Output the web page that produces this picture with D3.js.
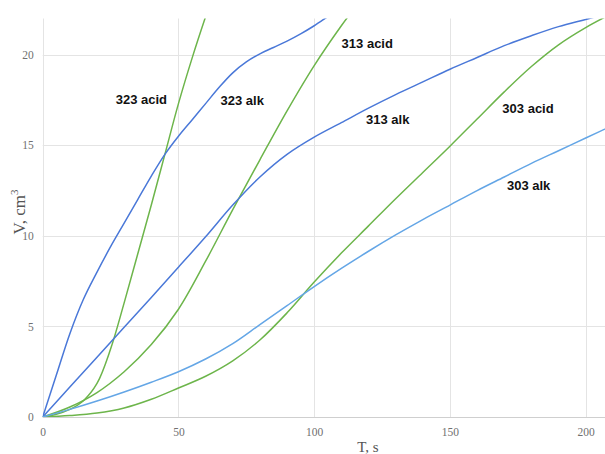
<!DOCTYPE html>
<html>
<head>
<meta charset="utf-8">
<script src="https://cdn.jsdelivr.net/npm/d3@7"></script>
<style>
  html, body { margin: 0; padding: 0; background: #fff; }
  svg { display: block; }
</style>
</head>
<body>
<svg id="chart" width="605" height="454"></svg>
<script>
// ---- data ----
const xTicks = [0, 50, 100, 150, 200];
const yTicks = [0, 5, 10, 15, 20];

const t323acid = [0, 5, 10, 15, 20, 25, 30, 35, 40, 45, 50, 55, 60, 63];
const v323acid = [0, 0.15, 0.42, 0.9, 1.85, 3.75, 6.3, 9.0, 11.7, 14.5, 17.3, 19.8, 22.1, 23.4];

const t323alk = [0, 5, 10, 15, 20, 25, 30, 35, 40, 45, 50, 55, 60, 65, 70, 75, 80, 85, 90, 95, 100, 105, 110];
const v323alk = [0, 2.3, 4.6, 6.5, 8.0, 9.4, 10.7, 12.0, 13.3, 14.5, 15.5, 16.4, 17.3, 18.2, 19.0, 19.6, 20.05, 20.4, 20.75, 21.15, 21.6, 22.1, 22.6];

const t313acid = [0, 10, 20, 30, 40, 50, 60, 70, 80, 90, 100, 110, 115];
const v313acid = [0, 0.55, 1.35, 2.5, 4.0, 5.95, 8.6, 11.45, 14.2, 16.9, 19.4, 21.6, 22.6];

const t313alk = [0, 10, 20, 30, 40, 50, 60, 70, 80, 90, 100, 110, 120, 130, 140, 150, 160, 170, 180, 190, 200, 210];
const v313alk = [0, 1.65, 3.3, 4.95, 6.6, 8.27, 9.95, 11.7, 13.25, 14.5, 15.45, 16.25, 17.05, 17.8, 18.5, 19.2, 19.85, 20.5, 21.05, 21.55, 21.95, 22.35];

const t303acid = [0, 10, 20, 30, 40, 50, 60, 70, 80, 90, 100, 110, 120, 130, 140, 150, 160, 170, 180, 190, 200, 210];
const v303acid = [0, 0.08, 0.22, 0.5, 0.98, 1.6, 2.25, 3.1, 4.25, 5.75, 7.45, 9.05, 10.55, 12.05, 13.5, 14.95, 16.45, 17.95, 19.35, 20.55, 21.5, 22.3];

const t303alk = [0, 10, 20, 30, 40, 50, 60, 70, 80, 90, 100, 110, 120, 130, 140, 150, 160, 170, 180, 190, 200, 210];
const v303alk = [0, 0.42, 0.88, 1.38, 1.92, 2.5, 3.2, 4.05, 5.1, 6.15, 7.2, 8.2, 9.15, 10.05, 10.9, 11.7, 12.5, 13.25, 14.0, 14.7, 15.4, 16.1];

const seriesNames = ["323 acid", "323 alk", "313 acid", "313 alk", "303 acid", "303 alk"];
const seriesT = [t323acid, t323alk, t313acid, t313alk, t303acid, t303alk];
const seriesV = [v323acid, v323alk, v313acid, v313alk, v303acid, v303alk];

// label anchors, in data units (time, volume)
const labelT = [26.9, 65.5, 110.1, 119.1, 169.3, 171.0];
const labelV = [17.3, 17.2, 20.35, 16.15, 16.8, 12.55];

// ---- styles ----
const seriesColor = ["#6db54b", "#4a78d8", "#6db54b", "#4a78d8", "#6db54b", "#64a6e6"];

const svg = d3.select("#chart");
const x = d3.scaleLinear().domain([0, 200]).range([42.7, 585.7]);
const y = d3.scaleLinear().domain([0, 22]).range([417, 18.5]);
const plotRight = 605;

// gridlines
const grid = svg.append("g");
grid.selectAll("line.h").data(yTicks).join("line")
  .attr("x1", x(0)).attr("x2", plotRight)
  .attr("y1", d => Math.round(y(d)) + 0.5).attr("y2", d => Math.round(y(d)) + 0.5)
  .attr("stroke", d => d === 0 ? "#cfcfcf" : "#e4e4e4").attr("stroke-width", 1);
grid.selectAll("line.v").data(xTicks).join("line")
  .attr("x1", d => Math.round(x(d)) + 0.5).attr("x2", d => Math.round(x(d)) + 0.5)
  .attr("y1", y(22)).attr("y2", y(0))
  .attr("stroke", "#e4e4e4").attr("stroke-width", 1);

// axes (tick labels only)
const yAxis = d3.axisLeft(y).tickValues(yTicks).tickSize(0).tickPadding(9);
const gy = svg.append("g").attr("transform", `translate(${x(0)},0)`).call(yAxis);
gy.select(".domain").remove();
gy.selectAll("text").attr("font-family", "'Liberation Serif', serif").attr("font-size", 11.5).attr("fill", "#707070");

const xAxis = d3.axisBottom(x).tickValues(xTicks).tickSize(0).tickPadding(11);
const gx = svg.append("g").attr("transform", `translate(0,${y(0)})`).call(xAxis);
gx.select(".domain").remove();
gx.selectAll("text").attr("font-family", "'Liberation Serif', serif").attr("font-size", 11.5).attr("fill", "#707070");

// clip
svg.append("clipPath").attr("id", "clip").append("rect")
  .attr("x", x(0)).attr("y", y(22)).attr("width", plotRight - x(0)).attr("height", y(0) - y(22));

const line = d3.line().x(d => x(d[0])).y(d => y(d[1])).curve(d3.curveCatmullRom.alpha(0.5));
const lines = svg.append("g").attr("clip-path", "url(#clip)");
seriesNames.forEach((name, i) => {
  const pts = seriesT[i].map((t, j) => [t, seriesV[i][j]]);
  lines.append("path").datum(pts)
    .attr("d", line)
    .attr("fill", "none")
    .attr("stroke", seriesColor[i])
    .attr("stroke-width", 1.5);
});

// series labels
svg.append("g").selectAll("text").data(seriesNames).join("text")
  .attr("x", (d, i) => x(labelT[i]))
  .attr("y", (d, i) => y(labelV[i]))
  .attr("font-family", "'Liberation Sans', Arial, sans-serif")
  .attr("font-weight", "bold")
  .attr("font-size", 13)
  .attr("fill", "#111")
  .text(d => d);

// axis titles
svg.append("text")
  .attr("x", 368).attr("y", 452)
  .attr("text-anchor", "middle")
  .attr("font-family", "'Liberation Serif', serif")
  .attr("font-size", 15)
  .attr("fill", "#555")
  .text("T, s");

const yt = svg.append("text")
  .attr("transform", "translate(25,212) rotate(-90)")
  .attr("text-anchor", "middle")
  .attr("font-family", "'Liberation Serif', serif")
  .attr("font-size", 17)
  .attr("fill", "#555");
yt.append("tspan").text("V, cm");
yt.append("tspan").attr("font-size", 11).attr("dy", -7).text("3");
</script>
</body>
</html>
